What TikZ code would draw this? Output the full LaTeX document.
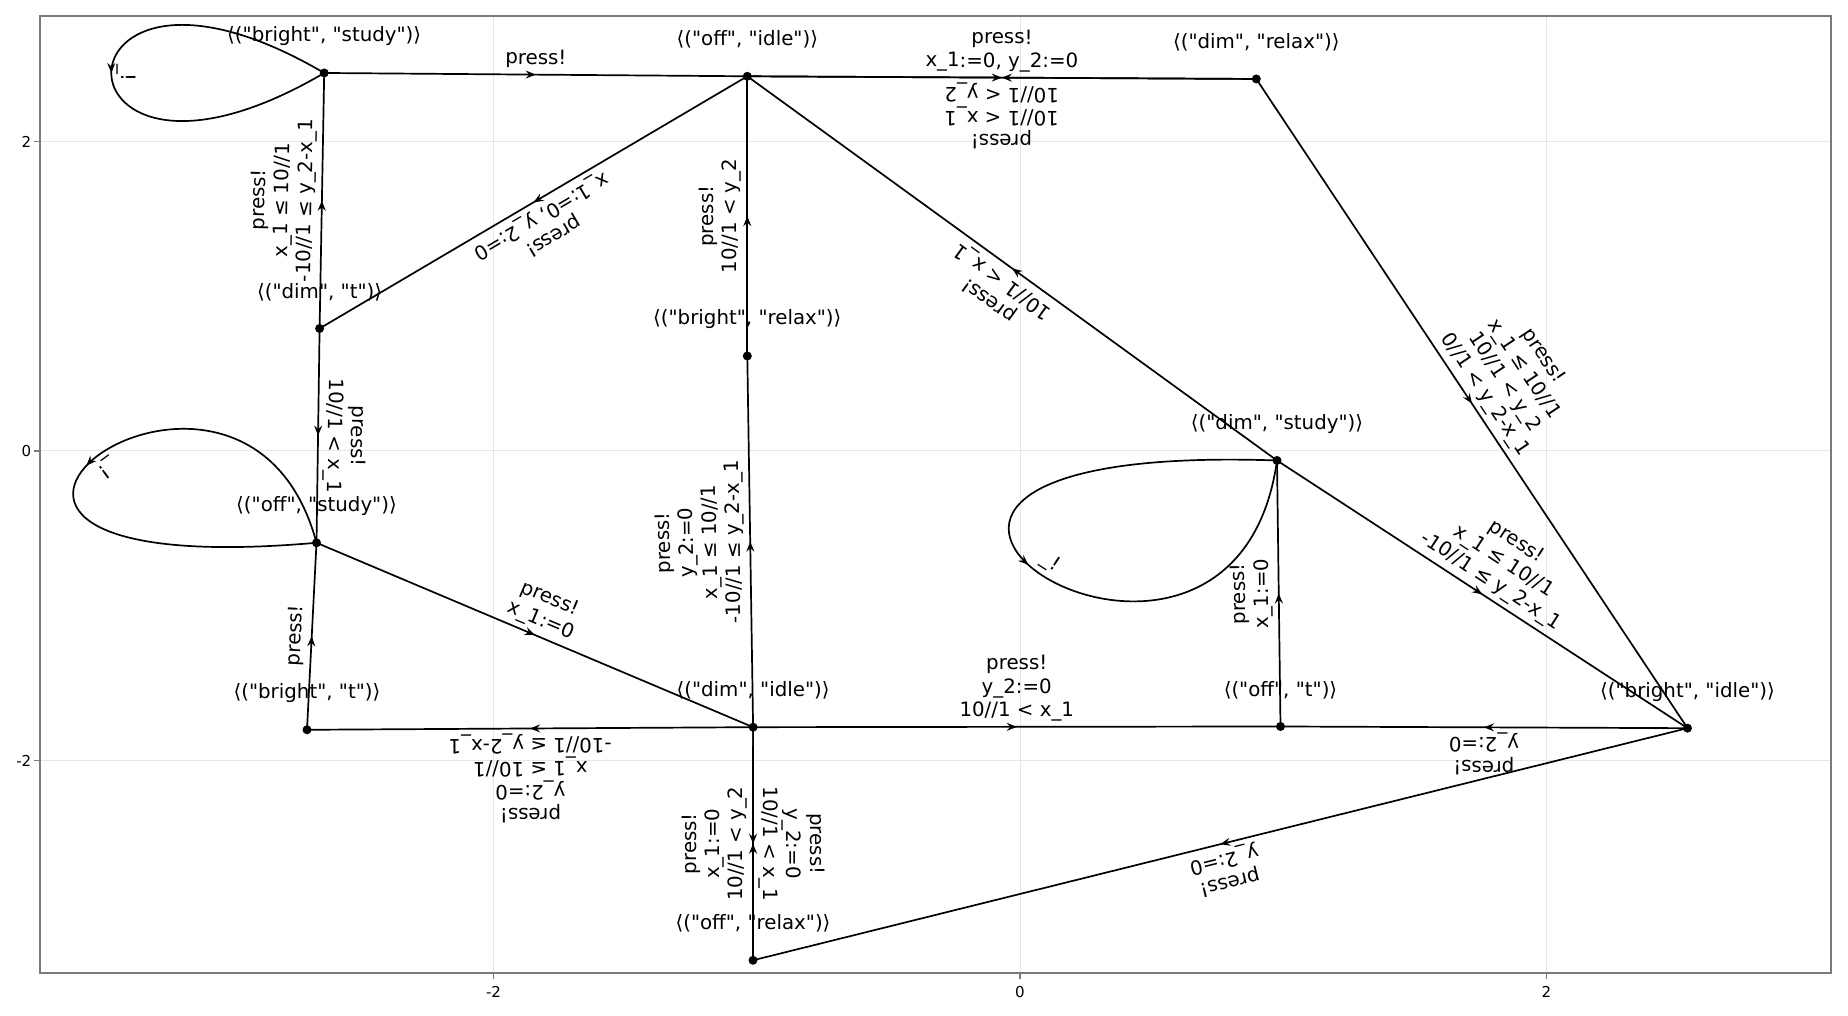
\documentclass[tikz,border=0pt]{standalone}
\usepackage{fontspec}
\newfontfamily\dvs{DejaVu Sans}
\usetikzlibrary{arrows.meta,decorations.markings}
\definecolor{gridgray}{HTML}{E6E6E6}
\definecolor{framegray}{HTML}{7A7A7A}
\newcommand\lblfont{\dvs\fontsize{5.63pt}{6.63pt}\selectfont}
\newcommand\tickfont{\dvs\fontsize{4.27pt}{5pt}\selectfont}
\begin{document}
\begin{tikzpicture}[x=0.01cm,y=0.01cm,
  gridline/.style={draw=gridgray, line width=0.01cm},
  framebox/.style={draw=framegray, line width=0.02cm},
  tickmark/.style={draw=framegray, line width=0.012cm},
  ticklab/.style={font=\tickfont, inner sep=0pt},
  dot/.style={circle, fill=black, inner sep=0pt, minimum size=0.09cm},
  nlab/.style={font=\lblfont, inner sep=0pt, anchor=center},
  trans/.style={draw=black, line width=0.017cm, postaction={decorate},
    decoration={markings, mark=at position 0.5 with {\arrow{Stealth[length=0.1cm,width=0.08cm,inset=0.035cm]}}}},
  elab/.style={font=\lblfont, align=center, pos=0.5, sloped, allow upside down, anchor=south,
    inner sep=0.034cm, outer sep=0pt, execute at end node=\strut}]
\useasboundingbox (0,0) rectangle (1848,1016);
% grid
\draw[gridline] (493.5,43.3) -- (493.5,1000.3);
\draw[gridline] (1020,43.3) -- (1020,1000.3);
\draw[gridline] (1546.5,43.3) -- (1546.5,1000.3);
\draw[gridline] (40,874.5) -- (1831,874.5);
\draw[gridline] (40,565) -- (1831,565);
\draw[gridline] (40,255.5) -- (1831,255.5);
% frame and ticks
\draw[framebox] (40,43.3) rectangle (1831,1000.3);
\draw[tickmark] (493.5,43.3) -- (493.5,37);
\draw[tickmark] (1020,43.3) -- (1020,37);
\draw[tickmark] (1546.5,43.3) -- (1546.5,37);
\draw[tickmark] (40,874.5) -- (34,874.5);
\draw[tickmark] (40,565) -- (34,565);
\draw[tickmark] (40,255.5) -- (34,255.5);
\node[ticklab] (tx1) at (493.5,24.3) {-2};
\node[ticklab] (tx2) at (1020,24.3) {0};
\node[ticklab] (tx3) at (1546.5,24.3) {2};
\node[ticklab, anchor=east] (ty1) at (32,874.5) {2};
\node[ticklab, anchor=east] (ty2) at (32,565) {0};
\node[ticklab, anchor=east] (ty3) at (32,255.5) {-2};
% states
\node[dot] (bs) at (324.2,943) {};
\node[dot] (oi) at (747.3,939.7) {};
\node[dot] (dr) at (1256.3,937) {};
\node[dot] (dt) at (319.6,687.5) {};
\node[dot] (br) at (747.3,660) {};
\node[dot] (ds) at (1277,555.5) {};
\node[dot] (os) at (316.5,473.2) {};
\node[dot] (bt) at (307,286.2) {};
\node[dot] (di) at (753.1,288.8) {};
\node[dot] (ot) at (1280.5,289.5) {};
\node[dot] (bi) at (1687.5,287.8) {};
\node[dot] (orl) at (753,55.7) {};
% state labels
\node[nlab] (bsL) at ([yshift=0.365cm]bs.center) {⟨("bright", "study")⟩};
\node[nlab] (oiL) at ([yshift=0.365cm]oi.center) {⟨("off", "idle")⟩};
\node[nlab] (drL) at ([yshift=0.365cm]dr.center) {⟨("dim", "relax")⟩};
\node[nlab] (dtL) at ([yshift=0.365cm]dt.center) {⟨("dim", "t")⟩};
\node[nlab] (brL) at ([yshift=0.365cm]br.center) {⟨("bright", "relax")⟩};
\node[nlab] (dsL) at ([yshift=0.365cm]ds.center) {⟨("dim", "study")⟩};
\node[nlab] (osL) at ([yshift=0.365cm]os.center) {⟨("off", "study")⟩};
\node[nlab] (btL) at ([yshift=0.365cm]bt.center) {⟨("bright", "t")⟩};
\node[nlab] (diL) at ([yshift=0.365cm]di.center) {⟨("dim", "idle")⟩};
\node[nlab] (otL) at ([yshift=0.365cm]ot.center) {⟨("off", "t")⟩};
\node[nlab] (biL) at ([yshift=0.365cm]bi.center) {⟨("bright", "idle")⟩};
\node[nlab] (orL) at ([yshift=0.365cm]orl.center) {⟨("off", "relax")⟩};
% transitions
\draw[trans] (bs.center) -- (oi.center) node[elab] {press!};
\draw[trans] (bs.center) .. controls +(149.6:3.29cm) and +(210.4:3.29cm) .. (bs.center) node[elab] {\_!};
\draw[trans] (dt.center) -- (bs.center) node[elab] {press!\\x\_1 ≤ 10//1\\-10//1 ≤ y\_2-x\_1};
\draw[trans] (oi.center) -- (dt.center) node[elab] {press!\\x\_1:=0, y\_2:=0};
\draw[trans] (br.center) -- (oi.center) node[elab] {press!\\10//1 < y\_2};
\draw[trans] (oi.center) -- (dr.center) node[elab] {press!\\x\_1:=0, y\_2:=0};
\draw[trans] (dr.center) -- (oi.center) node[elab] {press!\\10//1 < x\_1\\10//1 < y\_2};
\draw[trans] (ds.center) -- (oi.center) node[elab] {press!\\10//1 < x\_1};
\draw[trans] (dr.center) -- (bi.center) node[elab] {press!\\x\_1 ≤ 10//1\\10//1 < y\_2\\0//1 < y\_2-x\_1};
\draw[trans] (ds.center) -- (bi.center) node[elab] {press!\\x\_1 ≤ 10//1\\-10//1 ≤ y\_2-x\_1};
\draw[trans] (ot.center) -- (ds.center) node[elab] {press!\\x\_1:=0};
\draw[trans] (ds.center) .. controls +(178:5.8cm) and +(262:3.3cm) .. (ds.center) node[elab] {\_!};
\draw[trans] (dt.center) -- (os.center) node[elab] {press!\\10//1 < x\_1};
\draw[trans] (os.center) .. controls +(105:2.87cm) and +(185:5.1cm) .. (os.center) node[elab] {\_!};
\draw[trans] (bt.center) -- (os.center) node[elab] {press!};
\draw[trans] (os.center) -- (di.center) node[elab] {press!\\x\_1:=0};
\draw[trans] (di.center) -- (bt.center) node[elab] {press!\\y\_2:=0\\x\_1 ≤ 10//1\\-10//1 ≤ y\_2-x\_1};
\draw[trans] (di.center) -- (br.center) node[elab] {press!\\y\_2:=0\\x\_1 ≤ 10//1\\-10//1 ≤ y\_2-x\_1};
\draw[trans] (di.center) -- (ot.center) node[elab] {press!\\y\_2:=0\\10//1 < x\_1};
\draw[trans] (bi.center) -- (ot.center) node[elab] {press!\\y\_2:=0};
\draw[trans] (bi.center) -- (orl.center) node[elab] {press!\\y\_2:=0};
\draw[trans] (orl.center) -- (di.center) node[elab] {press!\\x\_1:=0\\10//1 < y\_2};
\draw[trans] (di.center) -- (orl.center) node[elab] {press!\\y\_2:=0\\10//1 < x\_1};
\end{tikzpicture}
\end{document}
